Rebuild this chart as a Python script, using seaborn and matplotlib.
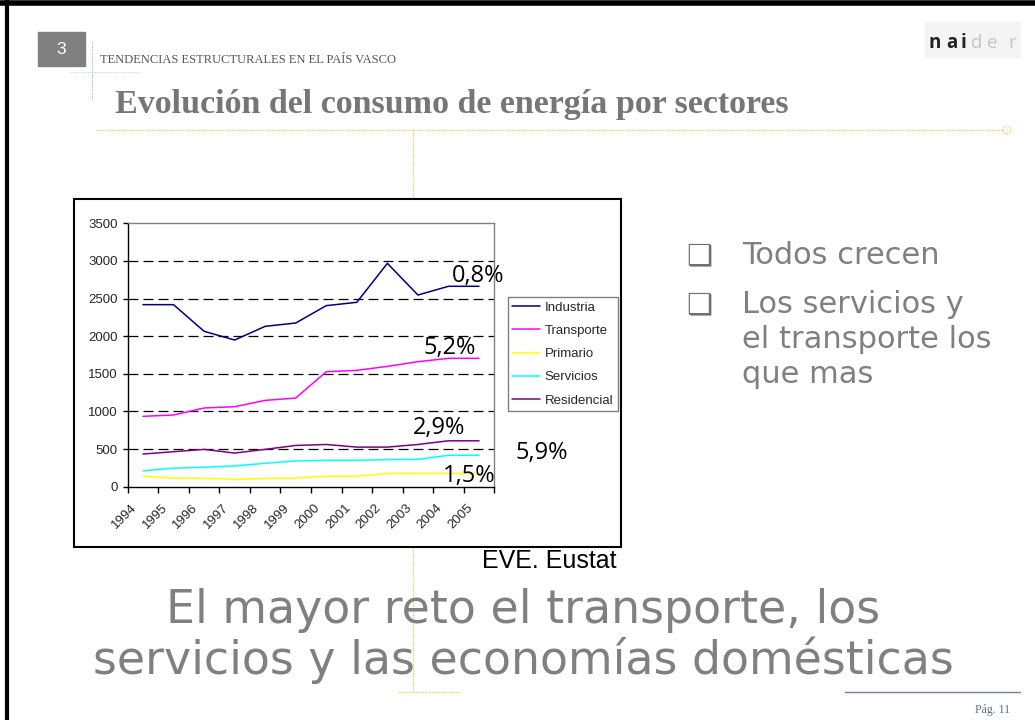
import numpy as np
import pandas as pd
import matplotlib
matplotlib.use("Agg")
import matplotlib.pyplot as plt
import matplotlib.transforms as mtransforms
from matplotlib.lines import Line2D
from matplotlib.patches import Rectangle, Ellipse
import seaborn as sns

# Datos (ktep)
years = ['1994', '1995', '1996', '1997', '1998', '1999',
         '2000', '2001', '2002', '2003', '2004', '2005']
sectores = ['Industria', 'Transporte', 'Primario', 'Servicios', 'Residencial']
industria = [2419, 2419, 2065, 1949, 2131, 2175, 2406, 2450, 2968, 2547, 2663, 2663]
transporte = [935, 953, 1046, 1063, 1147, 1178, 1528, 1546, 1599, 1661, 1706, 1706]
primario = [140, 114, 114, 96, 110, 114, 140, 140, 175, 175, 175, 175]
servicios = [211, 246, 259, 276, 311, 342, 351, 351, 360, 364, 417, 417]
residencial = [434, 465, 496, 447, 496, 548, 561, 526, 526, 561, 610, 610]
colores = ['#000080', '#ff00ff', '#ffff00', '#00ffff', '#800080']

# tasas de crecimiento anotadas (x en categorias, y en ktep)
tasas = ['0,8%', '5,2%', '2,9%', '1,5%', '5,9%']
tasas_x = [10.11, 9.17, 8.83, 9.81, 12.18]
tasas_y = [2720, 1764, 696, 66, 368]

df = pd.DataFrame({
    'Año': np.tile(years, len(sectores)),
    'Sector': np.repeat(sectores, len(years)),
    'Consumo': np.concatenate([industria, transporte, primario, servicios, residencial]),
})

W, H = 1035, 720


def fx(x):
    return x / W


def fy(y):
    return 1 - y / H


sns.set_style('ticks')
plt.rcParams['font.family'] = ['Liberation Sans', 'DejaVu Sans']

fig = plt.figure(figsize=(W / 100, H / 100), dpi=100)

# marco de la diapositiva
fig.add_artist(Line2D([fx(7), fx(7)], [0, 1], color='black', lw=3, zorder=5))
fig.add_artist(Line2D([0, 1], [fy(3), fy(3)], color='black', lw=4, zorder=5))

# cabecera
fig.add_artist(Rectangle((fx(38), fy(66)), 47 / W, 34 / H, color='#808080', zorder=1))
fig.text(fx(61.5), fy(49), '3', color='white', fontsize=12.5, ha='center', va='center')
fig.add_artist(Line2D([fx(92), fx(92)], [fy(42), fy(100)], color='#aab8c8', lw=0.8,
                      linestyle=(0, (1, 1))))
fig.add_artist(Line2D([fx(70), fx(140)], [fy(72), fy(72)], color='#c8d6e0', lw=0.8,
                      linestyle=(0, (1, 1))))
fig.text(fx(100), fy(62.7), 'TENDENCIAS ESTRUCTURALES EN EL PAÍS VASCO',
         family='Liberation Serif', fontsize=9, color='#555555')
fig.text(fx(115), fy(113.3), 'Evolución del consumo de energía por sectores',
         family='Liberation Serif', weight='bold', fontsize=24.5, color='#767676')

# logo
fig.add_artist(Rectangle((fx(925), fy(57)), 95 / W, 35 / H, color='#f4f4f4', zorder=1))
logo_x = [929, 946, 961, 971, 987, 1008]
for i, (ch, lx) in enumerate(zip('naider', logo_x)):
    fig.text(fx(lx), fy(48.3), ch, family='Open Sans',
             weight='bold' if i < 3 else 'normal',
             color='#222222' if i < 3 else '#c4c4c4', fontsize=13.5)

# lineas guia naranjas
naranja = '#f2c14e'
fig.add_artist(Line2D([fx(96), fx(1003)], [fy(129.5), fy(129.5)], color=naranja, lw=0.8,
                      linestyle=(0, (1, 1)), zorder=0.5))
fig.add_artist(Ellipse((fx(1007), fy(130)), 8 / W, 8 / H, fill=False, edgecolor=naranja,
                       lw=0.8, linestyle=(0, (1, 1)), zorder=0.5))
fig.add_artist(Line2D([fx(412.5), fx(412.5)], [fy(130), fy(692)], color=naranja, lw=0.8,
                      linestyle=(0, (1, 1)), zorder=0.5))
fig.add_artist(Line2D([fx(398), fx(461)], [fy(692), fy(692)], color=naranja, lw=0.8,
                      linestyle=(0, (1, 1)), zorder=0.5))

# recuadro del grafico
fig.add_artist(Rectangle((fx(74), fy(547)), 547 / W, 348 / H, facecolor='white',
                         edgecolor='black', lw=1.5, zorder=1))

ax = fig.add_axes([fx(127.7), fy(486.7), (494.3 - 127.7) / W, (486.7 - 223.3) / H])
ax.set_zorder(2)

sns.lineplot(data=df, x='Año', y='Consumo', hue='Sector', palette=colores,
             linewidth=1.1, sort=False, ax=ax)

ax.set_xlim(-0.5, len(years) - 0.5)
ax.set_ylim(0, 3500)
ax.set_yticks(range(0, 3501, 500))
ax.set_xlabel('')
ax.set_ylabel('')

ax.set_xticks(range(len(years)))
ax.set_xticklabels(years, rotation=45, ha='right', va='center', rotation_mode='anchor')
ax.set_xticks(np.arange(-0.5, len(years), 1), minor=True)
ax.tick_params(axis='x', which='major', length=0, pad=14, labelsize=9.5)
ax.tick_params(axis='x', which='minor', length=4, width=1, color='black', bottom=True)
ax.tick_params(axis='y', length=3.5, width=1, color='black', pad=3.5, labelsize=9.5)
offset = mtransforms.ScaledTranslation(-8 / 100, 0, fig.dpi_scale_trans)
for lab in ax.get_xticklabels():
    lab.set_transform(lab.get_transform() + offset)

for side in ['left', 'bottom']:
    ax.spines[side].set_color('black')
    ax.spines[side].set_linewidth(1)
for side in ['top', 'right']:
    ax.spines[side].set_visible(True)
    ax.spines[side].set_color('#808080')
    ax.spines[side].set_linewidth(1)

ax.yaxis.grid(True, color='black', linestyle=(0, (8, 4)), lw=0.9)
ax.xaxis.grid(False)
ax.set_axisbelow(True)
glines = ax.yaxis.get_gridlines()
glines[0].set_visible(False)
glines[-1].set_visible(False)

for t, tx, ty in zip(tasas, tasas_x, tasas_y):
    ax.text(tx, ty, t, family='Open Sans', fontsize=17, color='black',
            ha='left', va='baseline', clip_on=False)

sns.move_legend(ax, 'upper left', bbox_to_anchor=(fx(507.7), fy(297)),
                bbox_transform=fig.transFigure, title=None, frameon=True,
                fancybox=False, edgecolor='#808080', framealpha=1, fontsize=9.5,
                handlelength=2.1, handletextpad=0.35, borderpad=0.35,
                labelspacing=0.83, borderaxespad=0)
ax.get_legend().get_frame().set_linewidth(1)

fig.text(fx(617), fy(568), 'EVE. Eustat', ha='right', fontsize=18, color='black', zorder=3)

# texto lateral
gris = '#808080'
for by in [264, 313]:
    fig.text(fx(686), fy(by), '❑', family='DejaVu Sans', fontsize=21, color='#707070')
lineas = [('Todos crecen', 264), ('Los servicios y', 313),
          ('el transporte los', 348), ('que mas', 383)]
for txt, by in lineas:
    fig.text(fx(742), fy(by), txt, family='DejaVu Sans', fontsize=22, color=gris)

# conclusion
fig.text(fx(523), fy(623), 'El mayor reto el transporte, los', family='DejaVu Sans',
         fontsize=33, color=gris, ha='center', zorder=3)
fig.text(fx(523), fy(674), 'servicios y las economías domésticas', family='DejaVu Sans',
         fontsize=33, color=gris, ha='center', zorder=3)

# pie de pagina
fig.add_artist(Line2D([fx(845), fx(1020)], [fy(692), fy(692)], color='#7080a0', lw=1))
fig.text(fx(975), fy(713), 'Pág. 11', family='Liberation Serif', fontsize=8.5,
         color='#5a6a90')

fig.savefig('out.png', dpi=100)
